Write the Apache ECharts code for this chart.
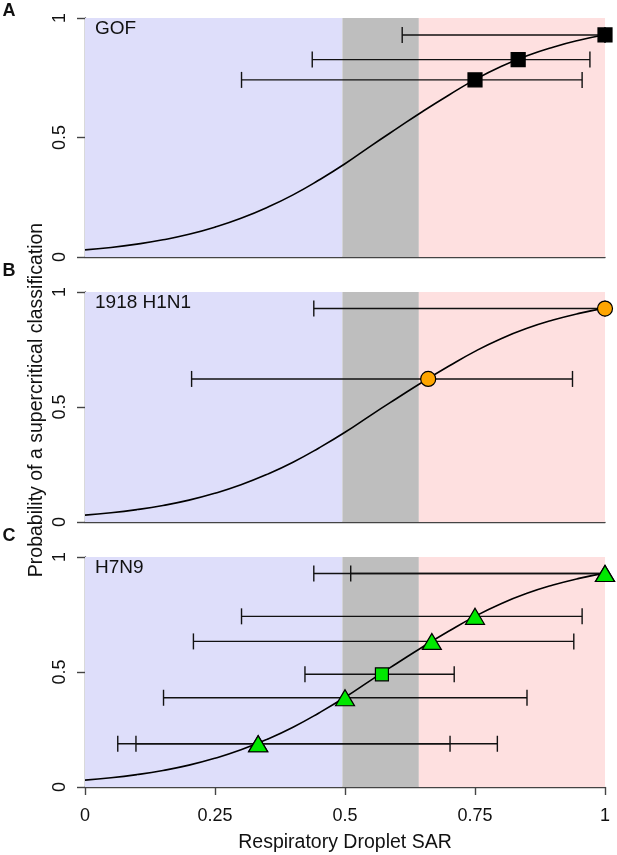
<!DOCTYPE html>
<html>
<head>
<meta charset="utf-8">
<script src="https://cdn.jsdelivr.net/npm/echarts@6/dist/echarts.min.js"></script>
<style>
html,body{margin:0;padding:0;background:#fff;}
#c{width:617px;height:855px;}
</style>
</head>
<body>
<div id="c"></div>
<script>
// ---------- data ----------
const xTickValues = [0, 0.25, 0.5, 0.75, 1];
const xTickLabels = ['0', '0.25', '0.5', '0.75', '1'];
const yTickLabels = ['0', '0.5', '1'];

const bandEdges = [0, 0.495, 0.642, 1];
const bandColors = ['#dedefa', '#bebebe', '#fee0e0'];

// fitted curve
const curveX = [0, 0.05, 0.1, 0.15, 0.2, 0.25, 0.3, 0.35, 0.4, 0.45, 0.5, 0.55, 0.6, 0.65, 0.7, 0.75, 0.8, 0.85, 0.9, 0.95, 1];
const curveY = [0.03, 0.04, 0.054, 0.072, 0.095, 0.125, 0.162, 0.207, 0.26, 0.322, 0.39, 0.465, 0.538, 0.61, 0.678, 0.742, 0.797, 0.842, 0.878, 0.907, 0.93];

const panelNames = ['GOF', '1918 H1N1', 'H7N9'];
const panelLetters = ['A', 'B', 'C'];

// Panel A: GOF (squares)
const gofX  = [1, 0.833, 0.75];
const gofY  = [0.929, 0.826, 0.741];
const gofLo = [0.61, 0.437, 0.301];
const gofHi = [1, 0.971, 0.956];

// Panel B: 1918 H1N1 (circles)
const h1X  = [1, 0.66];
const h1Y  = [0.928, 0.622];
const h1Lo = [0.44, 0.205];
const h1Hi = [1, 0.9375];

// Panel C: H7N9 triangles
const h7TriX  = [1, 1, 0.75, 0.667, 0.5, 0.333, 0.333];
const h7TriY  = [0.928, 0.928, 0.742, 0.633, 0.388, 0.188, 0.188];
const h7TriLo = [0.44, 0.511, 0.301, 0.2085, 0.151, 0.063, 0.098];
const h7TriHi = [1, 1, 0.956, 0.940, 0.850, 0.793, 0.702];
// Panel C: H7N9 square
const h7SqX  = [0.571];
const h7SqY  = [0.49];
const h7SqLo = [0.423];
const h7SqHi = [0.710];

// ---------- chart ----------
const FONT = 'Liberation Sans, Arial, sans-serif';
const AXIS_COLOR = '#444';
const chart = echarts.init(document.getElementById('c'));

const grids = [
  {left: 85, right: 12, top: 18, height: 239},
  {left: 85, right: 12, top: 292, height: 230},
  {left: 85, right: 12, top: 557, height: 230}
];

const xAxes = grids.map((g, i) => ({
  gridIndex: i, type: 'value', min: 0, max: 1, interval: 0.25,
  axisLine: {show: true, onZero: false, lineStyle: {color: AXIS_COLOR, width: 1.4}},
  axisTick: {show: i === 2, length: 8, lineStyle: {color: AXIS_COLOR, width: 1.4}},
  axisLabel: {
    show: i === 2, margin: 20, color: '#111', fontSize: 18, fontFamily: FONT,
    formatter: v => { const k = xTickValues.indexOf(v); return k >= 0 ? xTickLabels[k] : ''; }
  },
  splitLine: {show: false}
}));

const yAxes = grids.map((g, i) => ({
  gridIndex: i, type: 'value', min: 0, max: 1, interval: 0.5,
  axisLine: {show: true, lineStyle: {color: AXIS_COLOR, width: 1.4}},
  axisTick: {show: true, length: 8, lineStyle: {color: AXIS_COLOR, width: 1.4}},
  axisLabel: {
    rotate: 90, margin: 16, color: '#111', fontSize: 18, fontFamily: FONT,
    formatter: v => yTickLabels[Math.round(v * 2)]
  },
  splitLine: {show: false}
}));

function bandSeries(i) {
  const data = [];
  for (let k = 0; k < bandColors.length; k++) data.push([bandEdges[k], bandEdges[k + 1], k]);
  return {
    type: 'custom', xAxisIndex: i, yAxisIndex: i, z: 1, silent: true,
    encode: {x: [0, 1]},
    renderItem: (params, api) => {
      const a = api.coord([api.value(0), 1]);
      const b = api.coord([api.value(1), 0]);
      return {type: 'rect', shape: {x: a[0], y: a[1], width: b[0] - a[0], height: b[1] - a[1]},
              style: {fill: bandColors[api.value(2)]}};
    },
    data: data
  };
}

function errSeries(i, ys, lo, hi) {
  const data = ys.map((y, k) => [y, lo[k], hi[k]]);
  return {
    type: 'custom', xAxisIndex: i, yAxisIndex: i, z: 2, silent: true,
    encode: {x: [1, 2], y: 0},
    renderItem: (params, api) => {
      const y = api.value(0);
      const p1 = api.coord([api.value(1), y]);
      const p2 = api.coord([api.value(2), y]);
      const h = 8;
      const st = {stroke: '#111', lineWidth: 1.4};
      return {type: 'group', children: [
        {type: 'line', shape: {x1: p1[0], y1: p1[1], x2: p2[0], y2: p2[1]}, style: st},
        {type: 'line', shape: {x1: p1[0], y1: p1[1] - h, x2: p1[0], y2: p1[1] + h}, style: st},
        {type: 'line', shape: {x1: p2[0], y1: p2[1] - h, x2: p2[0], y2: p2[1] + h}, style: st}
      ]};
    },
    data: data
  };
}

function curveSeries(i) {
  return {
    type: 'line', xAxisIndex: i, yAxisIndex: i, z: 3, silent: true,
    smooth: 0.5, symbol: 'none',
    lineStyle: {color: '#000', width: 1.6},
    data: curveX.map((x, k) => [x, curveY[k]])
  };
}

function pointSeries(i, xs, ys, symbol, size, color) {
  return {
    type: 'scatter', xAxisIndex: i, yAxisIndex: i, z: 4, silent: true, clip: false,
    symbol: symbol, symbolSize: size,
    itemStyle: {color: color, borderColor: '#000', borderWidth: 1.2, opacity: 1},
    data: xs.map((x, k) => [x, ys[k]])
  };
}

const series = [];
for (let i = 0; i < 3; i++) { series.push(bandSeries(i)); }
series.push(errSeries(0, gofY, gofLo, gofHi));
series.push(errSeries(1, h1Y, h1Lo, h1Hi));
series.push(errSeries(2, h7TriY, h7TriLo, h7TriHi));
series.push(errSeries(2, h7SqY, h7SqLo, h7SqHi));
for (let i = 0; i < 3; i++) { series.push(curveSeries(i)); }
series.push(pointSeries(0, gofX, gofY, 'rect', 14, '#000'));
series.push(pointSeries(1, h1X, h1Y, 'circle', 15, '#ffa500'));
series.push(pointSeries(2, h7TriX, h7TriY, 'triangle', [19, 16], '#00e800'));
series.push(pointSeries(2, h7SqX, h7SqY, 'rect', 13, '#00e800'));

const graphics = [];
grids.forEach((g, i) => {
  graphics.push({type: 'text', left: 95, top: g.top + 1, z: 10, silent: true,
    style: {text: panelNames[i], fontSize: 19, fontFamily: FONT, fill: '#111'}});
});
const letterY = [11, 271, 536];
letterY.forEach((y, i) => {
  graphics.push({type: 'text', x: 9, y: y, z: 10, silent: true,
    style: {text: panelLetters[i], fontSize: 18, fontWeight: 'bold', fontFamily: FONT, fill: '#111',
            align: 'center', verticalAlign: 'middle'}});
});
graphics.push({type: 'text', x: 37, y: 400, rotation: Math.PI / 2, z: 10, silent: true,
  style: {text: 'Probability of a supercritical classification', fontSize: 19.5, fontFamily: FONT,
          fill: '#111', align: 'center', verticalAlign: 'middle'}});
graphics.push({type: 'text', x: 345, y: 843, z: 10, silent: true,
  style: {text: 'Respiratory Droplet SAR', fontSize: 19.5, fontFamily: FONT,
          fill: '#111', align: 'center', verticalAlign: 'middle'}});

chart.setOption({
  animation: false,
  backgroundColor: '#fff',
  grid: grids,
  xAxis: xAxes,
  yAxis: yAxes,
  series: series,
  graphic: graphics
});
</script>
</body>
</html>
